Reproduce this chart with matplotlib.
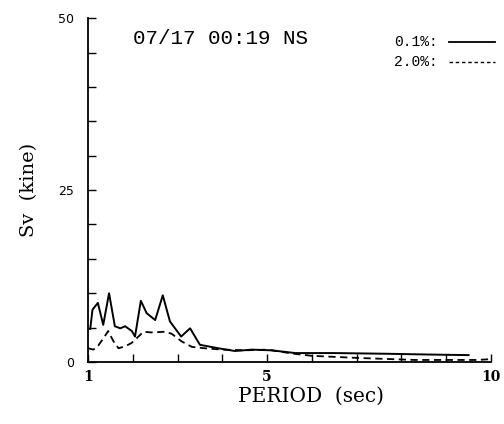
import numpy as np
import matplotlib
matplotlib.use("Agg")
import matplotlib.pyplot as plt

# spectre de vitesse Sv
periode_01 = [1.05, 1.10, 1.22, 1.34, 1.47, 1.60, 1.72, 1.83, 1.98, 2.05, 2.18, 2.31,
              2.50, 2.67, 2.83, 3.08, 3.28, 3.50, 3.91, 4.28, 4.66, 5.10, 5.63,
              6.52, 7.67, 8.50, 9.50]
sv_01 = [4.8, 7.6, 8.6, 5.4, 10.0, 5.2, 4.9, 5.2, 4.5, 3.7, 8.9, 7.1,
         6.1, 9.7, 5.9, 3.7, 4.9, 2.5, 2.0, 1.6, 1.8, 1.7, 1.3,
         1.3, 1.2, 1.1, 1.0]

periode_20 = [1.0, 1.12, 1.23, 1.35, 1.45, 1.57, 1.68, 1.84, 1.98, 2.24, 2.42, 2.72,
              2.87, 3.09, 3.32, 3.60, 4.00, 4.50, 5.00, 5.60, 6.00, 7.00, 8.30,
              9.00, 9.70, 9.95]
sv_20 = [2.0, 1.8, 2.4, 3.5, 4.5, 3.0, 2.0, 2.3, 2.8, 4.4, 4.3, 4.4,
         4.1, 3.0, 2.2, 2.0, 1.8, 1.7, 1.8, 1.2, 0.9, 0.6, 0.3,
         0.3, 0.3, 0.4]

etiquettes_x = ["1", "5", "10"]
etiquettes_y = ["0", "25", "50"]

mono = "Liberation Mono"
serif = "DejaVu Serif"

fig = plt.figure(figsize=(5.04, 4.24), dpi=100)
ax = fig.add_axes([0.1746, 0.1462, 0.7996, 0.811])

ax.plot(periode_01, sv_01, color="black", lw=1.4)
ax.plot(periode_20, sv_20, color="black", lw=1.3, ls=(0, (4, 2.5)))

ax.set_xlim(1, 10)
ax.set_ylim(0, 50)
for cote in ["top", "right"]:
    ax.spines[cote].set_visible(False)
ax.spines["left"].set_linewidth(1.3)
ax.spines["bottom"].set_linewidth(1.3)

ax.set_xticks(np.arange(1, 11))
ax.set_xticklabels([etiquettes_x[0], "", "", "", etiquettes_x[1], "", "", "", "", etiquettes_x[2]],
                   fontfamily=serif, fontsize=10, fontweight="bold")
ax.set_yticks(np.arange(0, 51, 5))
lab_y = [""] * 11
lab_y[0], lab_y[5], lab_y[10] = etiquettes_y
ax.set_yticklabels(lab_y, fontfamily="DejaVu Sans", fontsize=9)
ax.tick_params(axis="x", direction="in", length=6, width=1, pad=6)
ax.tick_params(axis="y", direction="in", length=6, width=1, pad=10)

ax.set_xlabel("PERIOD  (sec)", fontfamily=serif, fontsize=14.5)
ax.xaxis.set_label_coords(0.553, -0.072)
ax.set_ylabel("Sv  (kine)", fontfamily=serif, fontsize=14)
ax.yaxis.set_label_coords(-0.125, 0.5)

ax.text(0.112, 0.94, "07/17 00:19 NS", transform=ax.transAxes, fontfamily=mono,
        fontsize=15, va="center", ha="left")

# légende faite à la main
ax.text(0.868, 0.93, "0.1%:", transform=ax.transAxes, fontfamily=mono,
        fontsize=10.5, va="center", ha="right")
ax.plot([0.895, 1.01], [0.93, 0.93], transform=ax.transAxes, color="black", lw=1.3, clip_on=False)
ax.text(0.868, 0.872, "2.0%:", transform=ax.transAxes, fontfamily=mono,
        fontsize=10.5, va="center", ha="right")
ax.plot([0.895, 1.01], [0.872, 0.872], transform=ax.transAxes, color="black", lw=1.0,
        ls=(0, (2.5, 2)), clip_on=False)

fig.savefig("out.png", dpi=100)
